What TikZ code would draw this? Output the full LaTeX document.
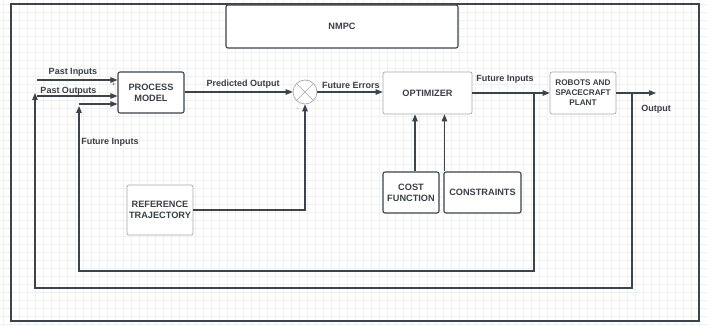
\documentclass[tikz,border=0pt]{standalone}
\usepackage{fontspec}
\setmainfont{Liberation Sans}
\usetikzlibrary{arrows.meta}
\definecolor{ln}{HTML}{3B434C}
\definecolor{tx}{HTML}{3A3F47}
\definecolor{lb}{HTML}{A8A8A8}
\definecolor{gridc}{HTML}{F0F0F0}
\begin{document}
\begin{tikzpicture}[x=1pt,y=-1pt,
  lbl/.style={text=tx,font=\fontsize{9}{10}\selectfont\bfseries,inner sep=0pt},
  darkbox/.style={draw=ln,line width=1.1pt,rounded corners=2pt,fill=white,text=tx,align=center,
     font=\fontsize{9.2}{11}\selectfont\bfseries,inner sep=1pt},
  lightbox/.style={draw=lb,line width=0.7pt,rounded corners=2pt,fill=white,text=tx,align=center,
     font=\fontsize{9.2}{11}\selectfont\bfseries,inner sep=1pt},
  arr/.style={draw=ln,line width=1.1pt,-{Triangle[length=7pt,width=5.5pt]}},
  wire/.style={draw=ln,line width=1.1pt}]
\useasboundingbox (0,0) rectangle (707,326);
\fill[white] (0,0) rectangle (707,326);
\foreach \x in {3,11,...,707} \draw[gridc,line width=0.4pt] (\x,0) -- (\x,326);
\foreach \y in {4,12,...,326} \draw[gridc,line width=0.4pt] (0,\y) -- (707,\y);
% frame
\draw[ln,line width=2pt] (11,4) rectangle (699,321);
% boxes
\node[darkbox,minimum width=232pt,minimum height=43pt] (nmpc) at (342,26.5) {NMPC};
\node[darkbox,minimum width=66pt,minimum height=41pt] (proc) at (151,92.5) {PROCESS\\MODEL};
\node[lightbox,minimum width=89pt,minimum height=42pt] (opt) at (427.5,93) {OPTIMIZER};
\node[lightbox,minimum width=66pt,minimum height=42pt,font=\fontsize{8.2}{10}\selectfont\bfseries] (rob) at (583,93) {ROBOTS AND\\SPACECRAFT\\PLANT};
\node[lightbox,minimum width=66pt,minimum height=50pt] (ref) at (160,210) {REFERENCE\\TRAJECTORY};
\node[darkbox,minimum width=56pt,minimum height=41pt] (cost) at (411,192.5) {COST\\FUNCTION};
\node[darkbox,minimum width=77pt,minimum height=41pt] (cons) at (482.5,192.5) {CONSTRAINTS};
\node[draw=lb,line width=0.7pt,circle,minimum size=24pt,inner sep=0pt,fill=white] (sum) at (305,92) {};
\draw[lb,line width=0.7pt] (sum.north west) -- (sum.south east) (sum.north east) -- (sum.south west);
% coordinates
\coordinate (pi) at (37,80);
\coordinate (po) at (37,96);
\coordinate (fi) at (79,104);
\coordinate (b1) at (534,93);
\coordinate (b2) at (632,93);
\coordinate (oend) at (656,93);
% connectors
\draw[arr] (pi) -- (pi -| proc.west);
\draw[arr] (po) -- (po -| proc.west);
\draw[arr] (fi) -- (fi -| proc.west);
\draw[arr] (proc.east |- sum.west) -- (sum.west);
\draw[arr] (sum.east) -- (sum.east -| opt.west);
\draw[arr] (opt.east) -- (rob.west);
\draw[arr] (rob.east) -- (oend);
\draw[arr] (ref.east) -| (sum.south);
\draw[arr] ([xshift=4]cost.north) -- ([xshift=4]cost.north |- opt.south);
\draw[arr] ([xshift=1]cons.north west) -- ([xshift=1]cons.north west |- opt.south);
\draw[arr] (b1) |- (79,271) -- (79,106);
\draw[arr] (b2) |- (35,288) -- (35,93);
% labels
\node[lbl] at (73,72) {Past Inputs};
\node[lbl] at (68.5,91) {Past Outputs};
\node[lbl,font=\fontsize{6}{7}\selectfont] at (114,85) {+};
\node[lbl] at (110,142) {Future Inputs};
\node[lbl] at (243,84) {Predicted Output};
\node[lbl,font=\fontsize{5}{6}\selectfont] at (290,92) {+};
\node[lbl,font=\fontsize{5}{6}\selectfont] at (298,110) {-};
\node[lbl] at (351,85) {Future Errors};
\node[lbl] at (505,79) {Future Inputs};
\node[lbl] at (656,109) {Output};
\end{tikzpicture}
\end{document}
